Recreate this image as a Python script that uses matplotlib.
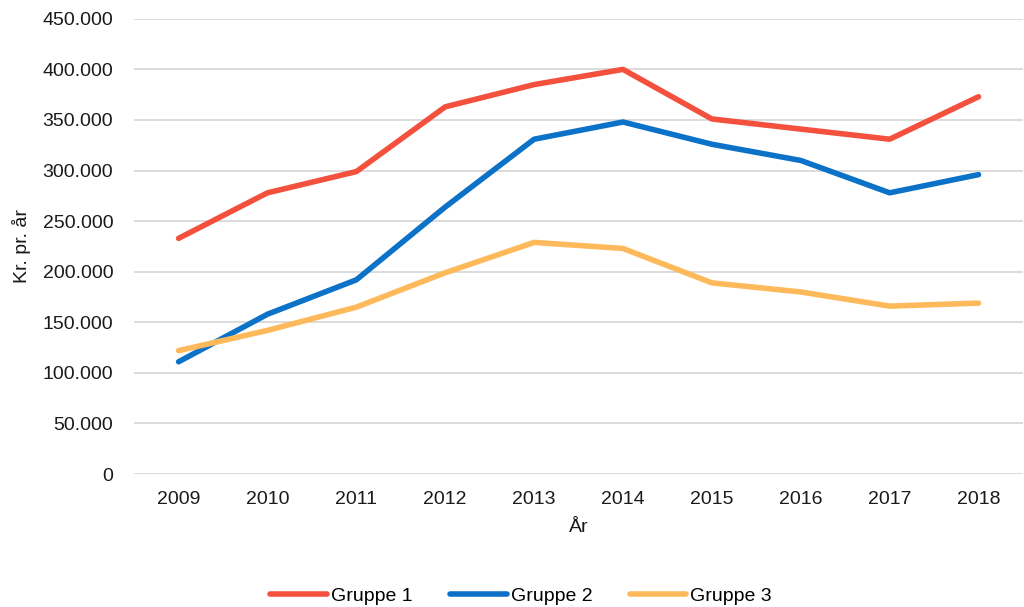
import matplotlib
matplotlib.use("Agg")
import matplotlib.pyplot as plt
from matplotlib.ticker import FuncFormatter, MultipleLocator

plt.rcParams["font.family"] = ["Liberation Sans", "DejaVu Sans"]

years = [2009, 2010, 2011, 2012, 2013, 2014, 2015, 2016, 2017, 2018]
gruppe_1 = [233000, 278000, 299000, 363000, 385000, 400000, 351000, 341000, 331000, 373000]
gruppe_2 = [111000, 158000, 192000, 264000, 331000, 348000, 326000, 310000, 278000, 296000]
gruppe_3 = [122000, 142000, 165000, 199000, 229000, 223000, 189000, 180000, 166000, 169000]

RED = "#F4503E"
BLUE = "#0C72C8"
ORANGE = "#FDB95A"
GRID = "#D9D9D9"
TEXT = "#1a1a1a"
FS = 14

fig = plt.figure(figsize=(10.24, 6.07), dpi=100)
ax = fig.add_axes([0.131, 0.219, 0.868, 0.75])

x = list(range(len(years)))
ax.plot(x, gruppe_1, color=RED, linewidth=4, solid_capstyle="round", label="Gruppe 1", zorder=3)
ax.plot(x, gruppe_2, color=BLUE, linewidth=4, solid_capstyle="round", label="Gruppe 2", zorder=3)
ax.plot(x, gruppe_3, color=ORANGE, linewidth=4, solid_capstyle="round", label="Gruppe 3", zorder=3)

ax.set_xlim(-0.5, len(years) - 0.5)
ax.set_ylim(0, 450000)
ax.set_xticks(x)
ax.set_xticklabels([str(y) for y in years])
ax.yaxis.set_major_locator(MultipleLocator(50000))
ax.yaxis.set_major_formatter(FuncFormatter(lambda v, _: f"{int(v):,}".replace(",", ".")))

ax.grid(True, axis="y", color=GRID, linewidth=1.3, zorder=0)
for spine in ax.spines.values():
    spine.set_visible(False)
ax.tick_params(axis="both", length=0, labelsize=FS, labelcolor=TEXT)
ax.tick_params(axis="y", pad=15)
ax.tick_params(axis="x", pad=12)

ax.set_xlabel("År", fontsize=FS, color=TEXT, labelpad=8)
ax.set_ylabel("Kr. pr. år", fontsize=FS, color=TEXT, labelpad=8)

fig.legend(loc="lower center", bbox_to_anchor=(0.509, -0.025), ncol=3, frameon=False,
           fontsize=FS, handlelength=2.9, handletextpad=0.2, columnspacing=1.95)

fig.savefig("out.png", dpi=100)
